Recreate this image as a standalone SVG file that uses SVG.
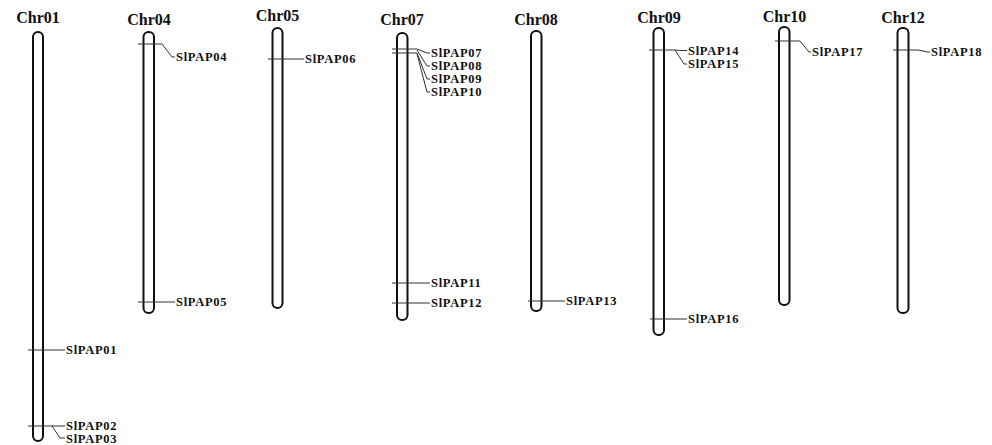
<svg xmlns="http://www.w3.org/2000/svg" width="992" height="445" viewBox="0 0 992 445">
<style>
.chr{fill:#fff;stroke:#111;stroke-width:2}
.t{font-family:"Liberation Serif","Times New Roman",serif;font-weight:bold;font-size:16px;fill:#111;text-anchor:middle}
.l{font-family:"Liberation Serif","Times New Roman",serif;font-weight:bold;font-size:12.5px;fill:#111;letter-spacing:0.7px;dominant-baseline:central}
.m{fill:none;stroke:#333;stroke-width:1}
</style>
<rect width="992" height="445" fill="#fff"/>
<g id="chr01"><rect class="chr" x="33" y="32" width="10" height="409" rx="5"/><text class="t" x="38" y="23">Chr01</text></g>
<g id="chr04"><rect class="chr" x="143.5" y="32" width="10.5" height="281" rx="5"/><text class="t" x="149" y="25">Chr04</text></g>
<g id="chr05"><rect class="chr" x="272.5" y="28" width="10" height="280" rx="5"/><text class="t" x="277.5" y="21">Chr05</text></g>
<g id="chr07"><rect class="chr" x="397" y="33" width="10.5" height="287" rx="5"/><text class="t" x="402" y="25">Chr07</text></g>
<g id="chr08"><rect class="chr" x="531" y="31" width="10.5" height="280" rx="5"/><text class="t" x="536" y="25">Chr08</text></g>
<g id="chr09"><rect class="chr" x="653.5" y="28" width="10.5" height="307" rx="5"/><text class="t" x="659" y="23">Chr09</text></g>
<g id="chr10"><rect class="chr" x="779" y="27" width="10.5" height="278" rx="5"/><text class="t" x="784.5" y="22">Chr10</text></g>
<g id="chr12"><rect class="chr" x="897.5" y="28" width="11" height="285" rx="5"/><text class="t" x="903" y="23">Chr12</text></g>
<g id="connectors">
<path class="m" d="M28 350H65"/>
<path class="m" d="M28 426H65"/>
<path class="m" d="M52 426L60 438H65"/>
<path class="m" d="M138 44H162L172 57H175"/>
<path class="m" d="M138 302H175"/>
<path class="m" d="M268 59H304"/>
<path class="m" d="M392 49H417L427 53H430"/>
<path class="m" d="M392 53H417"/>
<path class="m" d="M417 50L427 66H430"/>
<path class="m" d="M417 53L427 79H430"/>
<path class="m" d="M417 54L427 92H430"/>
<path class="m" d="M392 283H430"/>
<path class="m" d="M392 303H430"/>
<path class="m" d="M528 301H565"/>
<path class="m" d="M649 50H675L680 50.5H687"/>
<path class="m" d="M675 50L684 64H687"/>
<path class="m" d="M650 319H687"/>
<path class="m" d="M775 41H800L809 52H811"/>
<path class="m" d="M893 50H918L928 52H930"/>
</g>
<g id="labels">
<text class="l" x="66" y="350">SlPAP01</text>
<text class="l" x="66" y="425.5">SlPAP02</text>
<text class="l" x="66" y="438.5">SlPAP03</text>
<text class="l" x="176" y="57">SlPAP04</text>
<text class="l" x="176" y="302">SlPAP05</text>
<text class="l" x="305" y="59">SlPAP06</text>
<text class="l" x="431" y="53">SlPAP07</text>
<text class="l" x="431" y="66">SlPAP08</text>
<text class="l" x="431" y="79">SlPAP09</text>
<text class="l" x="431" y="92">SlPAP10</text>
<text class="l" x="431" y="283">SlPAP11</text>
<text class="l" x="431" y="303">SlPAP12</text>
<text class="l" x="566" y="301">SlPAP13</text>
<text class="l" x="688" y="50.5">SlPAP14</text>
<text class="l" x="688" y="64">SlPAP15</text>
<text class="l" x="688" y="319">SlPAP16</text>
<text class="l" x="812" y="52">SlPAP17</text>
<text class="l" x="931" y="52">SlPAP18</text>
</g>
</svg>
